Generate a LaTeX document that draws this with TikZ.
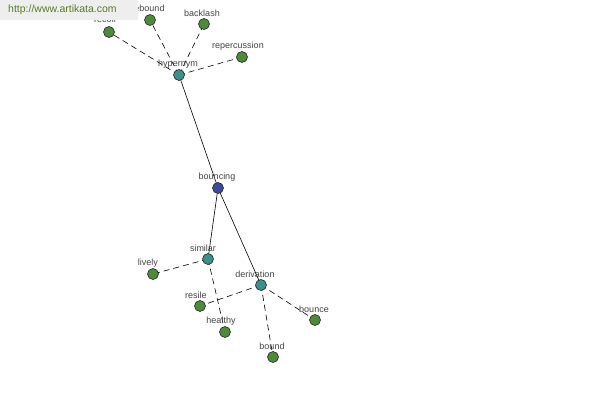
\documentclass[tikz,border=0pt]{standalone}
\usepackage{fontspec}
\setmainfont{Liberation Sans}
\definecolor{leafc}{HTML}{4F8A3C}
\definecolor{midc}{HTML}{3E8F8C}
\definecolor{rootc}{HTML}{3E4A98}
\definecolor{labc}{HTML}{444444}
\definecolor{wmbg}{HTML}{EEEEEE}
\definecolor{wmtx}{HTML}{5A7A2A}
\begin{document}
\begin{tikzpicture}[x=1pt,y=-1pt,
  dot/.style={circle,draw=black!85,line width=0.6pt,minimum size=11pt,inner sep=0pt},
  leaf/.style={dot,fill=leafc},
  mid/.style={dot,fill=midc},
  root/.style={dot,fill=rootc},
  lab/.style={font=\fontsize{9}{10}\selectfont,text=labc,inner sep=0pt},
  solidedge/.style={draw=black,line width=0.6pt},
  dashedge/.style={draw=black,line width=0.6pt,dashed,dash pattern=on 6pt off 4pt}]
\useasboundingbox[fill=white] (0,0) rectangle (600,400);
% coordinates of nodes
\coordinate (p-bouncing) at (218,188);
\coordinate (p-hypernym) at (179,75);
\coordinate (p-recoil) at (109,32);
\coordinate (p-rebound) at (150,20);
\coordinate (p-backlash) at (204,24);
\coordinate (p-repercussion) at (242,57);
\coordinate (p-similar) at (208,259);
\coordinate (p-lively) at (153,274);
\coordinate (p-derivation) at (261,285);
\coordinate (p-resile) at (200,306);
\coordinate (p-healthy) at (225,332);
\coordinate (p-bounce) at (315,320);
\coordinate (p-bound) at (273,357);
% edges
\draw[solidedge] (p-hypernym) -- (p-bouncing);
\draw[solidedge] (p-bouncing) -- (p-similar);
\draw[solidedge] (p-bouncing) -- (p-derivation);
\draw[dashedge] (p-hypernym) -- (p-recoil);
\draw[dashedge] (p-hypernym) -- (p-rebound);
\draw[dashedge] (p-hypernym) -- (p-backlash);
\draw[dashedge] (p-hypernym) -- (p-repercussion);
\draw[dashedge] (p-similar) -- (p-lively);
\draw[dashedge] (p-similar) -- (p-healthy);
\draw[dashedge] (p-derivation) -- (p-resile);
\draw[dashedge] (p-derivation) -- (p-bound);
\draw[dashedge] (p-derivation) -- (p-bounce);
% nodes
\node[root] (bouncing) at (p-bouncing) {};
\node[mid] (hypernym) at (p-hypernym) {};
\node[leaf] (recoil) at (p-recoil) {};
\node[leaf] (rebound) at (p-rebound) {};
\node[leaf] (backlash) at (p-backlash) {};
\node[leaf] (repercussion) at (p-repercussion) {};
\node[mid] (similar) at (p-similar) {};
\node[leaf] (lively) at (p-lively) {};
\node[mid] (derivation) at (p-derivation) {};
\node[leaf] (resile) at (p-resile) {};
\node[leaf] (healthy) at (p-healthy) {};
\node[leaf] (bounce) at (p-bounce) {};
\node[leaf] (bound) at (p-bound) {};
% labels
\node[lab] (l-bouncing) at (217,177) {bouncing};
\node[lab] (l-hypernym) at (178,64) {hypernym};
\node[lab] (l-recoil) at (105,19) {recoil};
\node[lab] (l-rebound) at (148,8) {rebound};
\node[lab] (l-backlash) at (202,13) {backlash};
\node[lab] (l-repercussion) at (238,46) {repercussion};
\node[lab] (l-similar) at (203,248) {similar};
\node[lab] (l-lively) at (148,263) {lively};
\node[lab] (l-derivation) at (255,274) {derivation};
\node[lab] (l-resile) at (196,295) {resile};
\node[lab] (l-healthy) at (221,321) {healthy};
\node[lab] (l-bounce) at (314,309) {bounce};
\node[lab] (l-bound) at (272,346) {bound};
% watermark
\node[fill=wmbg,anchor=north west,minimum width=138pt,minimum height=20pt,inner sep=0pt] (wm) at (0,0) {};
\node[anchor=west,text=wmtx,font=\fontsize{10.5}{12}\selectfont,inner sep=0pt] (wmtext) at (8,10) {http://www.artikata.com};
\end{tikzpicture}
\end{document}
